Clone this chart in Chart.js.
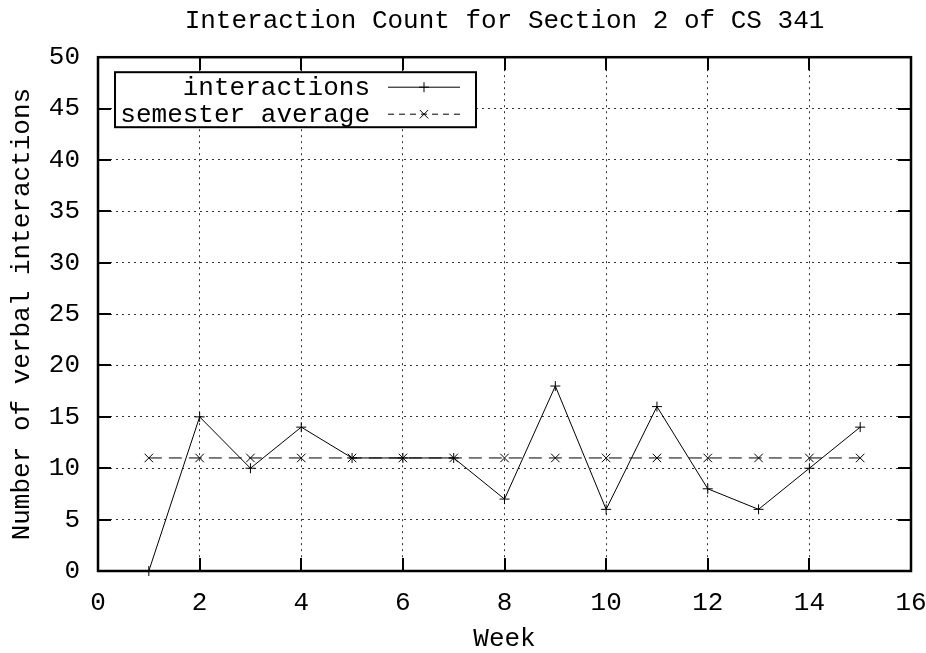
<!DOCTYPE html>
<html>
<head>
<meta charset="utf-8">
<script src="https://cdn.jsdelivr.net/npm/chart.js@4.4.1/dist/chart.umd.min.js"></script>
<style>
  html, body { margin: 0; padding: 0; background: #fff; }
</style>
</head>
<body>
<canvas id="myChart" width="926" height="653"></canvas>
<script>
const weeks = [1, 2, 3, 4, 5, 6, 7, 8, 9, 10, 11, 12, 13, 14, 15];
const interactions = [0, 15, 10, 14, 11, 11, 11, 7, 18, 6, 16, 8, 6, 10, 14];
const semesterAverage = [11, 11, 11, 11, 11, 11, 11, 11, 11, 11, 11, 11, 11, 11, 11];
const seriesLabels = ['interactions', 'semester average'];

const FONT = "'Liberation Mono', 'Courier New', monospace";

const toPoints = (xs, ys) => xs.map((v, i) => ({ x: v, y: ys[i] }));

// gnuplot style frame: thick border with inward ticks on all four sides
const gnuplotFrame = {
    id: 'gnuplotFrame',
    afterDatasetsDraw(chart) {
        const { ctx, chartArea: a, scales: { x, y } } = chart;
        const tl = 13;
        ctx.save();
        ctx.strokeStyle = '#000';
        ctx.lineWidth = 2;
        ctx.beginPath();
        x.ticks.forEach(t => {
            const px = Math.round(x.getPixelForValue(t.value));
            ctx.moveTo(px, a.bottom); ctx.lineTo(px, a.bottom - tl);
            ctx.moveTo(px, a.top); ctx.lineTo(px, a.top + tl);
        });
        y.ticks.forEach(t => {
            const py = Math.round(y.getPixelForValue(t.value));
            ctx.moveTo(a.left, py); ctx.lineTo(a.left + tl, py);
            ctx.moveTo(a.right, py); ctx.lineTo(a.right - tl, py);
        });
        ctx.stroke();
        ctx.lineWidth = 2.5;
        ctx.strokeRect(a.left, a.top, a.right - a.left, a.bottom - a.top);
        ctx.restore();
    }
};

// key box in the top left corner, text on the left, sample on the right
const gnuplotKey = {
    id: 'gnuplotKey',
    afterDraw(chart) {
        const { ctx, chartArea: a } = chart;
        const left = a.left + 17, top = a.top + 15;
        const w = 361, h = 55;
        ctx.save();
        ctx.fillStyle = '#fff';
        ctx.fillRect(left, top, w, h);
        ctx.strokeStyle = '#000';
        ctx.lineWidth = 2;
        ctx.strokeRect(left, top, w, h);
        ctx.font = '26px ' + FONT;
        ctx.textAlign = 'right';
        ctx.textBaseline = 'middle';
        chart.data.datasets.forEach((ds, i) => {
            const cy = top + 15 + i * 27;
            ctx.fillStyle = '#000';
            ctx.fillText(ds.label, left + 255, cy + 1);
            ctx.lineWidth = 1;
            ctx.setLineDash(i === 0 ? [] : [6, 5]);
            ctx.beginPath();
            ctx.moveTo(left + 273, cy);
            ctx.lineTo(left + 345, cy);
            ctx.stroke();
            ctx.setLineDash([]);
            Chart.helpers.drawPoint(ctx, {
                pointStyle: ds.pointStyle, radius: ds.pointRadius, rotation: 0, borderWidth: 1
            }, left + 309, cy);
        });
        ctx.restore();
    }
};

const data = {
    datasets: [{
        label: seriesLabels[0],
        data: toPoints(weeks, interactions),
        borderColor: '#000',
        backgroundColor: '#000',
        borderWidth: 1,
        pointStyle: 'cross',
        pointRadius: 5,
        pointBorderWidth: 1,
        clip: false
    }, {
        label: seriesLabels[1],
        data: toPoints(weeks, semesterAverage),
        borderColor: '#000',
        backgroundColor: '#000',
        borderWidth: 1,
        borderDash: [13, 7],
        pointStyle: 'crossRot',
        pointRadius: 6,
        pointBorderWidth: 1,
        clip: false
    }]
};

const config = {
    type: 'line',
    data: data,
    options: {
        responsive: false,
        animation: false,
        devicePixelRatio: 1,
        layout: { padding: { top: 0, right: 15, bottom: 0, left: 0 } },
        plugins: {
            legend: { display: false },
            tooltip: { enabled: false },
            title: {
                display: true,
                fullSize: false,
                text: 'Interaction Count for Section 2 of CS 341',
                color: '#000',
                font: { family: FONT, size: 26, weight: 'normal', lineHeight: 1.2 },
                padding: { top: 6, bottom: 20 }
            }
        },
        scales: {
            x: {
                type: 'linear',
                min: 0,
                max: 16,
                afterFit: s => { s.height = 82; s.paddingLeft = 0; s.paddingRight = 15; },
                ticks: { stepSize: 2, color: '#000', padding: 17, font: { family: FONT, size: 26 } },
                grid: { color: '#333', drawTicks: false },
                border: { display: false, dash: [2, 4] },
                title: {
                    display: true, text: 'Week', color: '#000',
                    font: { family: FONT, size: 26, lineHeight: 1.1 },
                    padding: { top: 0, bottom: 0 }
                }
            },
            y: {
                min: 0,
                max: 50,
                afterFit: s => { s.width = 98; },
                ticks: { stepSize: 5, color: '#000', padding: 18, font: { family: FONT, size: 26 } },
                grid: { color: '#333', drawTicks: false },
                border: { display: false, dash: [2, 4] },
                title: {
                    display: true, text: 'Number of verbal interactions', color: '#000',
                    font: { family: FONT, size: 26, lineHeight: 1.2 },
                    padding: { top: 7, bottom: 0 }
                }
            }
        }
    },
    plugins: [gnuplotFrame, gnuplotKey]
};

const ctx = document.getElementById('myChart').getContext('2d');
new Chart(ctx, config);
</script>
</body>
</html>
